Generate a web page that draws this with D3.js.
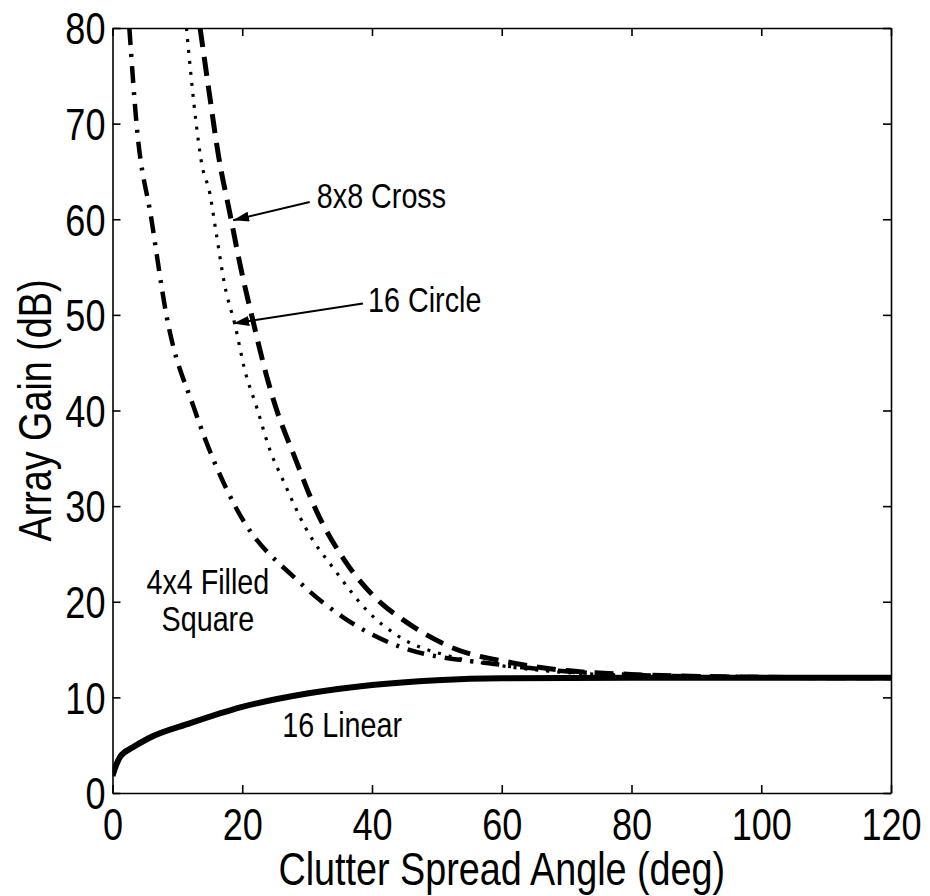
<!DOCTYPE html>
<html>
<head>
<meta charset="utf-8">
<script src="https://cdn.jsdelivr.net/npm/d3@7"></script>
<style>
  body { margin: 0; background: #fff; }
  svg text { font-family: "Liberation Sans", Arial, sans-serif; fill: #000; }
</style>
</head>
<body>
<div id="chart"></div>
<script>
// values (angle in deg, gain in dB)
var crossAngle = [13.5, 15, 16.3, 18.1, 19.9, 21.4, 23.8, 25, 28.1, 31.5, 35.8, 41.5, 44.8, 52, 61.7, 70, 80, 100, 120];
var crossGain  = [80, 72.8, 66.8, 60.6, 54.5, 50.1, 43.5, 40.7, 35.1, 29.4, 24.3, 19.8, 18.1, 15.3, 13.6, 12.8, 12.4, 12.1, 12.04];

var circleAngle = [11.4, 12.9, 13.7, 15, 16, 17.3, 18.9, 20.4, 22.2, 24.3, 26.3, 29.7, 34.5, 39.2, 44.3, 52, 60, 70, 80, 100, 120];
var circleGain  = [80, 70, 66, 62.7, 58.5, 53.1, 48.9, 44.2, 40.4, 35.8, 32.7, 27.8, 23.1, 19.1, 16.3, 14.3, 13.3, 12.6, 12.3, 12.1, 12.04];

var squareAngle = [2.6, 3.7, 6, 8.3, 12.7, 18.9, 28.9, 35.5, 44.3, 60, 75, 90, 120];
var squareGain  = [80, 70, 60, 50, 40, 30, 22, 18.4, 15.3, 13.4, 12.5, 12.2, 12.04];

var linearAngle = [0, 0.5, 1.2, 3.2, 5.5, 12, 20, 30, 40, 50, 60, 80, 120];
var linearGain  = [1.8, 2.8, 3.8, 4.8, 5.7, 7.3, 9.0, 10.4, 11.3, 11.8, 12.0, 12.04, 12.04];

var xTicks = [0, 20, 40, 60, 80, 100, 120];
var yTicks = [0, 10, 20, 30, 40, 50, 60, 70, 80];

var W = 930, H = 896;
var m = {t:28, r:39, b:103, l:112.5};
var narrow = 0.82; // the original font is a condensed helvetica

var svg = d3.select("#chart").append("svg")
  .attr("width", W)
  .attr("height", H);

var x = d3.scaleLinear().domain([0, 120]).range([m.l, W - m.r]);
var y = d3.scaleLinear().domain([0, 80]).range([H - m.b, m.t]);

svg.append("clipPath").attr("id", "plotclip")
  .append("rect")
  .attr("x", x(0)).attr("y", y(80))
  .attr("width", x(120) - x(0)).attr("height", y(0) - y(80));

// arrow head
svg.append("defs").append("marker")
  .attr("id", "arrowhead")
  .attr("markerUnits", "userSpaceOnUse")
  .attr("viewBox", "0 0 16 10")
  .attr("refX", 16).attr("refY", 5)
  .attr("markerWidth", 16).attr("markerHeight", 10)
  .attr("orient", "auto")
  .append("path")
  .attr("d", "M0,0 L16,5 L0,10 Z")
  .attr("fill", "#000");

// frame with inward ticks on all sides
var tickLen = 8;
svg.append("g").attr("transform", "translate(0," + y(0) + ")")
  .call(d3.axisBottom(x).tickValues(xTicks).tickSizeInner(-tickLen).tickSizeOuter(0).tickPadding(16))
  .call(function(g){ g.selectAll("text").attr("font-size", "44px").attr("dy", "0.71em"); });
svg.append("g").attr("transform", "translate(0," + y(80) + ")")
  .call(d3.axisTop(x).tickValues(xTicks).tickSizeInner(-tickLen).tickSizeOuter(0).tickFormat(""));
svg.append("g").attr("transform", "translate(" + x(0) + ",0)")
  .call(d3.axisLeft(y).tickValues(yTicks).tickSizeInner(-tickLen).tickSizeOuter(0).tickPadding(7))
  .call(function(g){ g.selectAll("text").attr("font-size", "44px").attr("dy", "0.36em"); });
svg.append("g").attr("transform", "translate(" + x(120) + ",0)")
  .call(d3.axisRight(y).tickValues(yTicks).tickSizeInner(-tickLen).tickSizeOuter(0).tickFormat(""));

svg.selectAll(".domain").attr("stroke", "#000").attr("stroke-width", 1.6);
svg.selectAll(".tick line").attr("stroke", "#000").attr("stroke-width", 1.6);
svg.selectAll(".tick text").attr("font-family", null);

// curves
var line = d3.line()
  .x(function(d){ return x(d[0]); })
  .y(function(d){ return y(d[1]); })
  .curve(d3.curveMonotoneX);

var series = [
  {name:"linear", xs:linearAngle, ys:linearGain, width:6,   dash:null},
  {name:"square", xs:squareAngle, ys:squareGain, width:4.5, dash:"17,9,3,9"},
  {name:"circle", xs:circleAngle, ys:circleGain, width:3.2, dash:"3,8"},
  {name:"cross",  xs:crossAngle,  ys:crossGain,  width:5,   dash:"19,10"}
];

svg.append("g").attr("clip-path", "url(#plotclip)")
  .selectAll(".curve")
  .data(series)
  .enter()
  .append("path")
  .attr("class", "curve")
  .attr("d", function(s){ return line(s.xs.map(function(v, i){ return [v, s.ys[i]]; })); })
  .attr("fill", "none")
  .attr("stroke", "#000")
  .attr("stroke-width", function(s){ return s.width; })
  .attr("stroke-dasharray", function(s){ return s.dash; });

// annotations
var notes = [
  {text:"8x8 Cross", x:31.5, y:61.2, anchor:"start"},
  {text:"16 Circle", x:39.4, y:50.3, anchor:"start"},
  {text:"4x4 Filled", x:14.7, y:20.8, anchor:"middle"},
  {text:"Square", x:14.7, y:16.9, anchor:"middle"},
  {text:"16 Linear", x:35.4, y:5.85, anchor:"middle"}
];
svg.selectAll(".note")
  .data(notes)
  .enter()
  .append("text")
  .attr("class", "note")
  .attr("x", function(d){ return x(d.x); })
  .attr("y", function(d){ return y(d.y); })
  .attr("text-anchor", function(d){ return d.anchor; })
  .attr("font-size", "35px")
  .text(function(d){ return d.text; });

var arrows = [
  {x1:30.4, y1:61.8, x2:18.6, y2:59.9},
  {x1:38.6, y1:51.2, x2:18.6, y2:49.1}
];
svg.selectAll(".arrow")
  .data(arrows)
  .enter()
  .append("line")
  .attr("class", "arrow")
  .attr("x1", function(d){ return x(d.x1); })
  .attr("y1", function(d){ return y(d.y1); })
  .attr("x2", function(d){ return x(d.x2); })
  .attr("y2", function(d){ return y(d.y2); })
  .attr("stroke", "#000")
  .attr("stroke-width", 2)
  .attr("marker-end", "url(#arrowhead)");

// axis titles
svg.append("text")
  .attr("x", (x(0) + x(120)) / 2)
  .attr("y", 885)
  .attr("text-anchor", "middle")
  .attr("font-size", "46px")
  .text("Clutter Spread Angle (deg)");

svg.append("text")
  .attr("transform", "translate(51," + (y(0) + y(80)) / 2 + ") rotate(-90)")
  .attr("text-anchor", "middle")
  .attr("font-size", "46px")
  .text("Array Gain (dB)");

// squeeze every text to the condensed width
svg.selectAll("text").each(function(){
  var len = this.getComputedTextLength();
  d3.select(this)
    .attr("textLength", len * narrow)
    .attr("lengthAdjust", "spacingAndGlyphs");
});
</script>
</body>
</html>
